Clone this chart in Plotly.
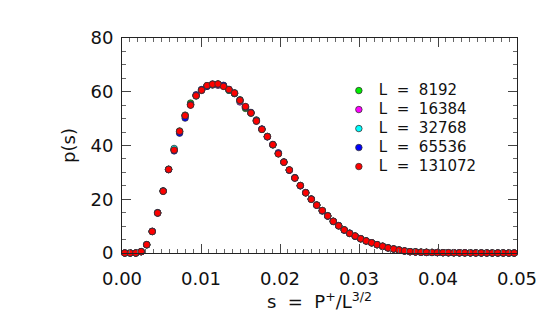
import plotly.graph_objects as go

# bin centres s = P+/L^{3/2}
s = [0.00035, 0.00104, 0.00174, 0.00243, 0.00313, 0.00382, 0.00451, 0.00521, 0.00590,
     0.00660, 0.00729, 0.00799, 0.00868, 0.00938, 0.01007, 0.01076, 0.01146, 0.01215,
     0.01285, 0.01354, 0.01424, 0.01493, 0.01563, 0.01632, 0.01701, 0.01771, 0.01840,
     0.01910, 0.01979, 0.02049, 0.02118, 0.02188, 0.02257, 0.02326, 0.02396, 0.02465,
     0.02535, 0.02604, 0.02674, 0.02743, 0.02813, 0.02882, 0.02951, 0.03021, 0.03090,
     0.03160, 0.03229, 0.03299, 0.03368, 0.03438, 0.03507, 0.03576, 0.03646, 0.03715,
     0.03785, 0.03854, 0.03924, 0.03993, 0.04063, 0.04132, 0.04201, 0.04271, 0.04340,
     0.04410, 0.04479, 0.04549, 0.04618, 0.04688, 0.04757, 0.04826, 0.04896, 0.04965]

p_131072 = [0.0, 0.0, 0.0, 0.5, 3.1, 8.0, 14.9, 23.0, 31.1, 38.3, 45.3, 51.1,
            55.0, 58.5, 60.6, 62.3, 62.8, 62.9, 62.0, 60.8, 59.5, 56.8, 54.5, 52.1,
            49.1, 46.0, 43.3, 40.3, 36.9, 33.8, 30.9, 27.9, 25.1, 22.4, 20.0, 17.8,
            15.8, 13.8, 11.8, 10.1, 8.6, 7.3, 6.3, 5.3, 4.5, 3.8, 3.1, 2.5,
            1.9, 1.5, 1.1, 0.75, 0.5, 0.4, 0.3, 0.25, 0.2, 0.15, 0.12, 0.1,
            0.08, 0.06, 0.05, 0.04, 0.03, 0.02, 0.02, 0.01, 0.01, 0.01, 0.0, 0.0]
p_65536 = [0.0, 0.0, 0.0, 0.5, 3.1, 8.1, 15.0, 23.1, 31.0, 38.0, 44.6, 50.2,
           55.1, 58.9, 60.8, 62.0, 62.9, 62.8, 62.4, 60.9, 59.4, 56.9, 54.4, 52.3,
           49.2, 46.1, 43.2, 40.4, 37.3, 33.9, 30.8, 28.0, 25.0, 22.5, 20.1, 17.8,
           15.6, 13.7, 11.8, 10.1, 8.5, 7.4, 6.2, 5.3, 4.5, 3.8, 3.1, 2.5,
           1.9, 1.5, 1.1, 0.75, 0.5, 0.4, 0.3, 0.25, 0.2, 0.15, 0.12, 0.1,
           0.08, 0.06, 0.05, 0.04, 0.03, 0.02, 0.02, 0.01, 0.01, 0.01, 0.0, 0.0]
p_32768 = [0.0, 0.0, 0.0, 0.5, 3.0, 8.0, 14.9, 23.0, 31.2, 38.9, 45.2, 51.0,
           55.3, 58.4, 60.6, 62.1, 62.6, 62.9, 62.2, 60.6, 59.6, 56.6, 54.3, 52.0,
           49.4, 46.0, 43.3, 40.2, 37.0, 33.8, 30.9, 28.0, 25.1, 22.4, 20.0, 17.8,
           15.8, 13.9, 11.7, 10.2, 8.6, 7.3, 6.3, 5.3, 4.5, 3.8, 3.1, 2.5,
           1.9, 1.5, 1.1, 0.75, 0.5, 0.4, 0.3, 0.25, 0.2, 0.15, 0.12, 0.1,
           0.08, 0.06, 0.05, 0.04, 0.03, 0.02, 0.02, 0.01, 0.01, 0.01, 0.0, 0.0]
p_16384 = [0.0, 0.0, 0.0, 0.5, 3.1, 8.0, 14.8, 23.0, 31.1, 38.4, 45.0, 51.2,
           55.2, 58.6, 60.5, 62.2, 62.5, 62.4, 62.2, 60.7, 59.5, 56.2, 54.2, 52.1,
           49.0, 46.1, 43.3, 40.3, 36.9, 33.8, 30.8, 27.8, 25.0, 22.4, 20.0, 17.8,
           15.7, 13.8, 11.8, 10.1, 8.6, 7.3, 6.3, 5.3, 4.5, 3.8, 3.1, 2.5,
           1.9, 1.5, 1.1, 0.75, 0.5, 0.4, 0.3, 0.25, 0.2, 0.15, 0.12, 0.1,
           0.08, 0.06, 0.05, 0.04, 0.03, 0.02, 0.02, 0.01, 0.01, 0.01, 0.0, 0.0]
p_8192 = [0.0, 0.0, 0.0, 0.5, 3.1, 8.0, 15.0, 23.1, 31.1, 38.5, 45.4, 51.3,
          55.8, 58.6, 60.7, 62.2, 62.7, 62.8, 62.1, 60.5, 59.3, 57.0, 53.8, 52.2,
          49.5, 46.0, 43.4, 40.3, 37.0, 33.8, 30.9, 28.0, 25.1, 22.4, 20.1, 17.9,
          15.8, 13.8, 11.8, 10.2, 8.6, 7.3, 6.3, 5.3, 4.5, 3.8, 3.1, 2.5,
          1.9, 1.5, 1.1, 0.75, 0.5, 0.4, 0.3, 0.25, 0.2, 0.15, 0.12, 0.1,
          0.08, 0.06, 0.05, 0.04, 0.03, 0.02, 0.02, 0.01, 0.01, 0.01, 0.0, 0.0]

series = [
    ("L = 8192", p_8192, "#00ee00"),
    ("L = 16384", p_16384, "#ff00ff"),
    ("L = 32768", p_32768, "#00ffff"),
    ("L = 65536", p_65536, "#0000ff"),
    ("L = 131072", p_131072, "#ff0000"),
]

fig = go.Figure()
for name, vals, col in series:
    label = '<span style="font-size:15px">' + name.replace(" ", "\u00a0\u00a0") + "</span>"
    fig.add_trace(go.Scatter(
        x=s, y=vals, mode="markers", name=label,
        marker=dict(size=6.5, color=col, line=dict(color="#333333", width=0.8)),
        cliponaxis=False,
    ))

font = "DejaVu Sans, sans-serif"
axis_common = dict(
    showline=True, linecolor="#222222", linewidth=1, mirror="ticks",
    ticks="inside", tickcolor="#444444", showgrid=False, zeroline=False,
    tickfont=dict(family=font, size=18, color="#111111"),
)
fig.update_xaxes(
    range=[0, 0.05], tickvals=[0, 0.01, 0.02, 0.03, 0.04, 0.05],
    ticktext=["0.00", "0.01", "0.02", "0.03", "0.04", "0.05"], ticklen=9,
    ticklabelstandoff=9,
    minor=dict(dtick=0.001, ticklen=4, ticks="inside", tickcolor="#666666"),
    title=dict(text="s  =  P<sup>+</sup>/L<sup>3/2</sup>", font=dict(family=font, size=18, color="#111111"), standoff=7),
    **axis_common,
)
fig.update_yaxes(
    range=[0, 80], tickvals=[0, 20, 40, 60, 80], ticklen=9,
    ticklabelstandoff=4,
    minor=dict(dtick=5, ticklen=4, ticks="inside", tickcolor="#666666"),
    title=dict(text="p(s)", font=dict(family=font, size=18, color="#111111"), standoff=10),
    **axis_common,
)
# the page body adds an 8 px offset; margins compensate so the plot area lands at x 122-517, y 38-253
fig.update_layout(
    width=554, height=332,
    margin=dict(l=114, r=45, t=30, b=87),
    plot_bgcolor="white", paper_bgcolor="white",
    legend=dict(x=0.549, y=0.823, xanchor="left", yanchor="top",
                bgcolor="rgba(0,0,0,0)", font=dict(family=font, size=12, color="#111111"),
                tracegroupgap=0, itemwidth=30),
)
fig.write_html("out.html")
